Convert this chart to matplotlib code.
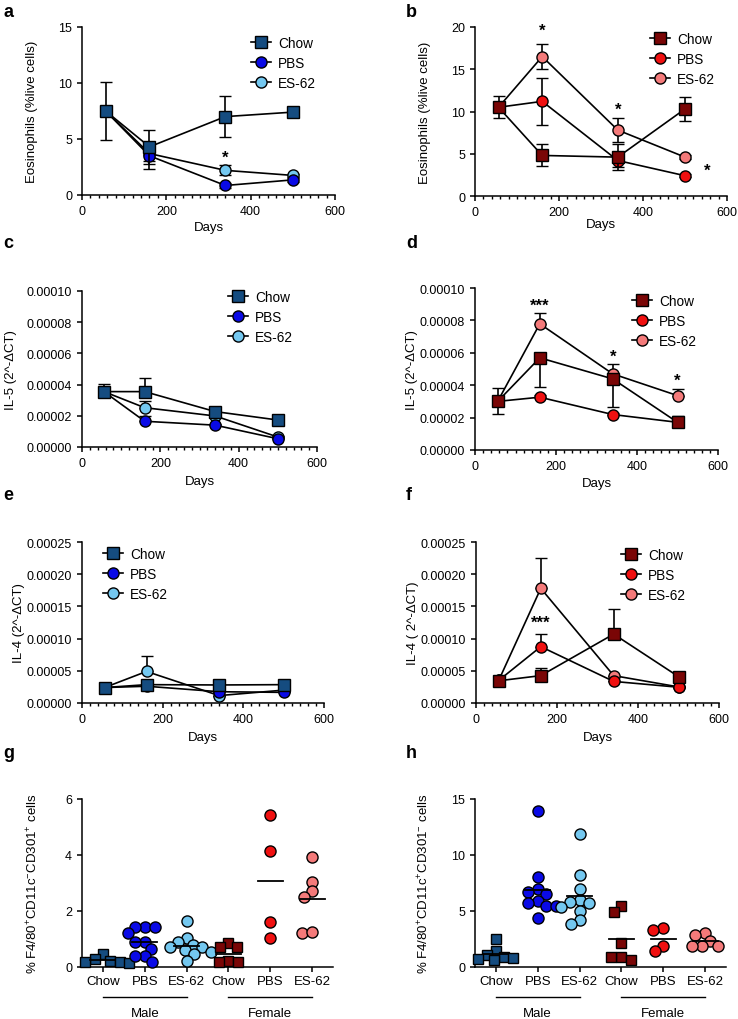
import numpy as np
import matplotlib
matplotlib.use('Agg')
import matplotlib.pyplot as plt
from matplotlib.lines import Line2D
from matplotlib.ticker import MultipleLocator, FormatStrFormatter

plt.rcParams['font.family'] = ['Liberation Sans', 'DejaVu Sans']
plt.rcParams['mathtext.default'] = 'regular'

W, H = 738, 1020

# ---------------- data ----------------
days = [56, 160, 340, 500]
groups = ['Chow', 'PBS', 'ES-62']

# a: eosinophils, male
a_chow = [7.5, 4.3, 7.0, 7.4]
a_chow_err = [2.6, 1.5, 1.85, 0.25]
a_pbs = [7.5, 3.5, 0.85, 1.35]
a_pbs_err = [0, 1.2, 0.2, 0.15]
a_es = [7.5, 3.7, 2.2, 1.75]
a_es_err = [0, 0.65, 0.45, 0.15]

# b: eosinophils, female
b_chow = [10.5, 4.8, 4.6, 10.3]
b_chow_err = [1.3, 1.3, 1.5, 1.45]
b_pbs = [10.5, 11.2, 4.2, 2.4]
b_pbs_err = [0, 2.75, 0.8, 0.2]
b_es = [10.5, 16.5, 7.8, 4.6]
b_es_err = [0, 1.5, 1.4, 0.2]

# c: IL-5, male (upper error only)
c_chow = [3.55e-5, 3.55e-5, 2.27e-5, 1.73e-5]
c_chow_hi = [0.47e-5, 0.9e-5, 0.2e-5, 0.1e-5]
c_pbs = [3.55e-5, 1.65e-5, 1.4e-5, 0.53e-5]
c_pbs_hi = [0, 0.35e-5, 0.1e-5, 0.05e-5]
c_es = [3.55e-5, 2.52e-5, 1.99e-5, 0.64e-5]
c_es_hi = [0, 0.43e-5, 0.15e-5, 0.05e-5]

# d: IL-5, female
d_chow = [3.0e-5, 5.69e-5, 4.39e-5, 1.71e-5]
d_chow_lo = [0.75e-5, 1.81e-5, 1.71e-5, 0]
d_chow_hi = [0.8e-5, 0, 0, 0.4e-5]
d_pbs = [3.0e-5, 3.26e-5, 2.19e-5, 1.71e-5]
d_pbs_hi = [0, 0.12e-5, 0.1e-5, 0]
d_es = [3.0e-5, 7.79e-5, 4.7e-5, 3.36e-5]
d_es_hi = [0, 0.66e-5, 0.62e-5, 0.41e-5]

# e: IL-4, male
e_chow = [2.4e-5, 2.85e-5, 2.8e-5, 2.85e-5]
e_chow_hi = [0, 0, 0, 0]
e_pbs = [2.4e-5, 2.6e-5, 1.75e-5, 1.65e-5]
e_pbs_hi = [0, 0, 0, 0]
e_es = [2.4e-5, 4.9e-5, 1.15e-5, 2.0e-5]
e_es_hi = [0, 2.43e-5, 0, 0]

# f: IL-4, female
f_chow = [3.45e-5, 4.25e-5, 10.7e-5, 4.1e-5]
f_chow_hi = [0, 1.17e-5, 3.97e-5, 0]
f_pbs = [3.5e-5, 8.75e-5, 3.35e-5, 2.45e-5]
f_pbs_hi = [0, 1.95e-5, 0, 0]
f_es = [3.5e-5, 17.8e-5, 4.25e-5, 2.5e-5]
f_es_hi = [0, 4.67e-5, 0, 0]

# g: % F4/80+CD11c-CD301+ cells
g_male_chow = [0.46, 0.29, 0.23, 0.18, 0.18, 0.14]
g_male_pbs = [1.43, 1.43, 1.43, 1.21, 0.89, 0.89, 0.64, 0.39, 0.39, 0.18]
g_male_es = [1.64, 1.05, 0.9, 0.8, 0.72, 0.7, 0.6, 0.55, 0.45, 0.2]
g_fem_chow = [0.86, 0.7, 0.7, 0.23, 0.18, 0.18]
g_fem_pbs = [5.44, 4.15, 1.62, 1.03]
g_fem_es = [3.94, 3.02, 2.7, 2.5, 1.22, 1.25]

# h: % F4/80+CD11c+CD301- cells
h_male_chow = [2.5, 1.4, 1.1, 0.9, 0.8, 0.7, 0.6]
h_male_pbs = [13.9, 8.0, 6.96, 6.7, 6.5, 5.9, 5.7, 5.45, 5.45, 4.4]
h_male_es = [11.9, 8.2, 7.0, 6.0, 5.8, 5.7, 5.4, 5.0, 4.2, 3.8]
h_fem_chow = [5.43, 4.94, 2.14, 0.88, 0.88, 0.65]
h_fem_pbs = [3.47, 3.33, 1.86, 1.46]
h_fem_es = [3.03, 2.89, 2.35, 1.9, 1.9, 1.9]

cat_labels = ['Chow', 'PBS', 'ES-62', 'Chow', 'PBS', 'ES-62']

# colours
male_cols = ['#154c80', '#0a0ae6', '#74c8f0']
fem_cols = ['#7a0606', '#f01010', '#f47a7a']
markers = ['s', 'o', 'o']


def rect(l, t, r, b):
    return [l / W, 1 - b / H, (r - l) / W, (b - t) / H]


def style(ax):
    for s in ['top', 'right']:
        ax.spines[s].set_visible(False)
    for s in ['left', 'bottom']:
        ax.spines[s].set_linewidth(1.1)
    ax.tick_params(which='major', length=3.6, width=1.1, labelsize=9, direction='out')
    ax.tick_params(which='minor', length=2.0, width=1.0)


fig = plt.figure(figsize=(W / 100, H / 100), dpi=100)


def line_panel(r, series, errs, cols, ylim, ystep, ylabel, fmt, legpos, stars, ylx, xly):
    ax = fig.add_axes(rect(*r))
    style(ax)
    # ES-62 first, Chow last (Chow on top)
    for i in [2, 1, 0]:
        lo, hi = errs[i]
        ax.errorbar(days, series[i], yerr=[lo, hi], fmt='-', color='k', lw=1.2,
                    marker=markers[i], ms=8.3 if i == 0 else 8.0, mfc=cols[i], mec='k', mew=1.0,
                    ecolor='k', elinewidth=1.2, capsize=4.5, capthick=1.2,
                    zorder=3 + (2 - i), clip_on=False)
    ax.set_xlim(0, 600)
    ax.set_ylim(*ylim)
    ax.xaxis.set_major_locator(MultipleLocator(200))
    ax.xaxis.set_minor_locator(MultipleLocator(20))
    ax.yaxis.set_major_locator(MultipleLocator(ystep))
    if fmt:
        ax.yaxis.set_major_formatter(FormatStrFormatter(fmt))
    ax.set_xlabel('Days', fontsize=9.5)
    ax.set_ylabel(ylabel, fontsize=9.5)
    ax.yaxis.set_label_coords(ylx, 0.5)
    ax.xaxis.set_label_coords(0.5, xly)
    handles = [Line2D([], [], color='k', lw=1.2, marker=markers[i], ms=8.3 if i == 0 else 8.0,
                      mfc=cols[i], mec='k', mew=1.0) for i in range(3)]
    lx, ly = legpos
    ax.legend(handles, groups, loc='upper left', bbox_to_anchor=(lx / W, 1 - ly / H),
              bbox_transform=fig.transFigure, frameon=False, fontsize=9.8,
              borderpad=0, borderaxespad=0, handlelength=1.5, handletextpad=0.5,
              labelspacing=0.45)
    for sx, sy, st in stars:
        ax.text(sx, sy, st, ha='center', va='center', fontsize=12, fontweight='bold',
                clip_on=False)
    return ax


def pairs_hi(hi):
    return ([0] * len(hi), hi)


# a
line_panel((82, 28, 335, 196), [a_chow, a_pbs, a_es],
           [(a_chow_err, a_chow_err), (a_pbs_err, a_pbs_err), (a_es_err, a_es_err)],
           male_cols, (0, 15), 5, 'Eosinophils (%live cells)', None, (251, 37),
           [(340, 3.4, '*')], -0.174, -0.155)
# b
line_panel((475, 28, 727, 197), [b_chow, b_pbs, b_es],
           [(b_chow_err, b_chow_err), (b_pbs_err, b_pbs_err), (b_es_err, b_es_err)],
           fem_cols, (0, 20), 5, 'Eosinophils (%live cells)', None, (650, 33),
           [(160, 19.6, '*'), (340, 10.3, '*'), (552, 3.1, '*')], -0.175, -0.13)
# c
line_panel((82, 292, 317, 448), [c_chow, c_pbs, c_es],
           [pairs_hi(c_chow_hi), pairs_hi(c_pbs_hi), pairs_hi(c_es_hi)],
           male_cols, (0, 0.0001), 0.00002, 'IL-5 (2^-ΔCT)', '%.5f', (228, 291), [],
           -0.277, -0.18)
# d
line_panel((475, 289, 718, 451), [d_chow, d_pbs, d_es],
           [(d_chow_lo, d_chow_hi), pairs_hi(d_pbs_hi), pairs_hi(d_es_hi)],
           fem_cols, (0, 0.0001), 0.00002, 'IL-5 (2^-ΔCT)', '%.5f', (632, 295),
           [(160, 8.95e-5, '***'), (340, 5.8e-5, '*'), (500, 4.3e-5, '*')], -0.235, -0.165)
# e
line_panel((82, 543, 324, 704), [e_chow, e_pbs, e_es],
           [pairs_hi(e_chow_hi), pairs_hi(e_pbs_hi), pairs_hi(e_es_hi)],
           male_cols, (0, 0.00025), 0.00005, 'IL-4 (2^-ΔCT)', '%.5f', (103, 548), [],
           -0.236, -0.175)
# f
line_panel((476, 543, 719, 704), [f_chow, f_pbs, f_es],
           [pairs_hi(f_chow_hi), pairs_hi(f_pbs_hi), pairs_hi(f_es_hi)],
           fem_cols, (0, 0.00025), 0.00005, 'IL-4 ( 2^-ΔCT)', '%.5f', (621, 549),
           [(160, 12.6e-5, '***')], -0.235, -0.175)


def swarm(vals, ymax, ax_h, ax_w, d=10.0, k=1.15):
    # beeswarm with some vertical overlap allowed; x offsets in category units
    ypx = np.asarray(vals, float) / ymax * ax_h * k
    xs = np.zeros(len(vals))
    placed = []
    for i in np.argsort(-ypx, kind='stable'):
        cands = [0.0]
        for j in placed:
            dy = ypx[i] - ypx[j]
            if abs(dy) < d:
                dx = np.sqrt(d * d - dy * dy)
                cands += [xs[j] + dx, xs[j] - dx]
        cands.sort(key=lambda c: (abs(c), c))
        for c in cands:
            if all((c - xs[j]) ** 2 + (ypx[i] - ypx[j]) ** 2 >= d * d * 0.97 for j in placed):
                xs[i] = c
                break
        placed.append(i)
    return xs / ax_w * 6


def scatter_panel(r, data, ylim, ystep, ylabel, ylx):
    ax = fig.add_axes(rect(*r))
    style(ax)
    ax_w = r[2] - r[0]
    ax_h = r[3] - r[1]
    cols = male_cols + fem_cols
    for k, vals in enumerate(data):
        mk = markers[k % 3]
        off = swarm(vals, ylim[1], ax_h, ax_w)
        ax.plot(k + off, vals, ls='none', marker=mk, ms=7.6 if mk == 's' else 8.0,
                mfc=cols[k], mec='k', mew=1.0, zorder=3, clip_on=False)
        m = np.mean(vals)
        ax.plot([k - 0.3, k + 0.3], [m, m], color='k', lw=1.3, zorder=4)
    ax.set_xlim(-0.5, 5.5)
    ax.set_ylim(*ylim)
    ax.yaxis.set_major_locator(MultipleLocator(ystep))
    ax.set_xticks(range(6))
    ax.set_xticklabels(cat_labels, fontsize=9.5)
    ax.tick_params(axis='x', pad=2)
    ax.set_ylabel(ylabel, fontsize=9.5)
    ax.yaxis.set_label_coords(ylx, 0.5)
    tr = ax.get_xaxis_transform()
    for (a0, a1), lab in [((0, 2), 'Male'), ((3, 5), 'Female')]:
        ax.plot([a0, a1], [-0.18, -0.18], color='k', lw=1.0, transform=tr, clip_on=False)
        ax.text((a0 + a1) / 2, -0.238, lab, transform=tr, ha='center', va='top', fontsize=9.5)
    return ax


scatter_panel((82, 800, 333, 968),
              [g_male_chow, g_male_pbs, g_male_es, g_fem_chow, g_fem_pbs, g_fem_es],
              (0, 6), 2, r'% F4/80$^{+}$CD11c$^{-}$CD301$^{+}$ cells', -0.167)
scatter_panel((475, 800, 726, 968),
              [h_male_chow, h_male_pbs, h_male_es, h_fem_chow, h_fem_pbs, h_fem_es],
              (0, 15), 5, r'% F4/80$^{+}$CD11c$^{+}$CD301$^{-}$ cells', -0.175)

# panel letters
for lab, x, y in [('a', 3, 17), ('b', 406, 17), ('c', 3, 248), ('d', 406, 248),
                  ('e', 3, 500), ('f', 406, 500), ('g', 3, 758), ('h', 406, 758)]:
    fig.text(x / W, 1 - y / H, lab, fontsize=13, fontweight='bold', ha='left', va='baseline')

fig.savefig('out.png', dpi=100)
